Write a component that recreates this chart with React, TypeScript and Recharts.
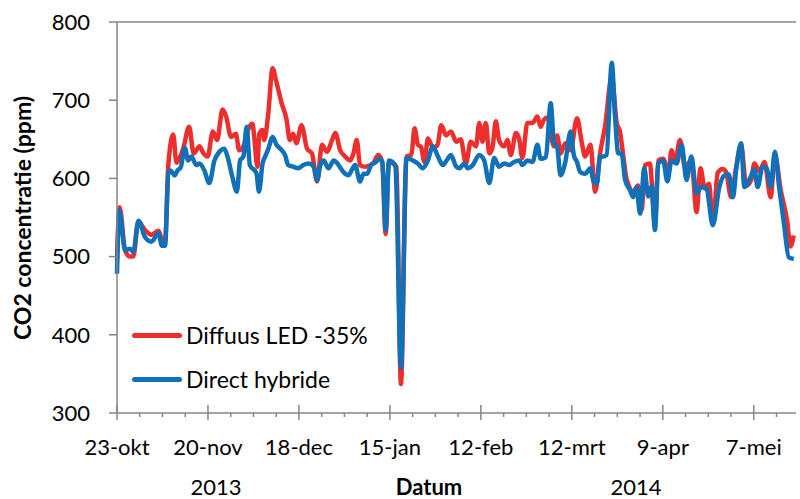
import React from 'react';
import { LineChart, Line, XAxis, YAxis, ReferenceLine, Legend, Label } from 'recharts';

// Day offsets from 23-okt-2013
const tickDays = [0, 28, 56, 84, 112, 140, 168, 196];
const tickLabels = ['23-okt', '20-nov', '18-dec', '15-jan', '12-feb', '12-mrt', '9-apr', '7-mei'];
const minorTickDays = [0, 7, 14, 21, 28, 35, 42, 49, 56, 63, 70, 77, 84, 91, 98, 105, 112, 119, 126, 133, 140, 147, 154, 161, 168, 175, 182, 189, 196, 203];
const yTicks = [300, 400, 500, 600, 700, 800];
const seriesNames = ['Diffuus LED -35%', 'Direct hybride'];

const redDays = [0, 0.8, 2.5, 4, 5, 6.6, 8.6, 10.6, 12.8, 13.8, 14.8, 15.8, 17.3, 18.3, 19.5, 20.5, 22.2, 23.6, 25.4, 26.6, 27.9, 29.5, 30.8, 32.5, 33.6, 35.1, 36.6, 37.6, 38.8, 40.7, 41.7, 42.3, 43.2, 43.8, 44.8, 45.3, 46.5, 47.9, 48.9, 50.7, 52.2, 53.2, 54.2, 55.2, 56.8, 58.5, 60, 61.6, 63.1, 64.6, 66.2, 67.2, 68.7, 70.2, 71.8, 72.8, 73.8, 74.8, 76.4, 78.8, 80.4, 81.6, 82.7, 83.7, 85, 86, 87.4, 89.1, 90.6, 91.6, 92.6, 93.6, 94.6, 95.7, 97.2, 98.6, 99.8, 101.3, 102.8, 104.4, 105.8, 107.4, 108.9, 110.5, 111.5, 112.5, 113.5, 114.6, 115.6, 116.6, 117.6, 119.2, 120.2, 121.2, 122.8, 123.8, 124.8, 126.3, 127.9, 129.4, 130.4, 131.4, 132.5, 134.5, 135.5, 136.5, 138, 139.6, 141.6, 143.1, 144.1, 145.7, 147.2, 148.7, 150.2, 152.3, 153.8, 154.8, 155.8, 156.8, 158.9, 160.4, 161.5, 162.5, 164, 165.6, 166.6, 168.1, 169.7, 170.7, 171.7, 173.3, 174.8, 176.8, 178.4, 179.6, 180.9, 182.2, 183.4, 184.9, 186.4, 187.5, 189, 190.6, 192.1, 193.7, 195.2, 196.2, 197.7, 199.3, 201.2, 202.5, 204.3, 206.3, 207.3, 208.3];
const redValues = [495, 563, 508, 500, 500, 545, 534, 528, 533, 522, 520, 617, 656, 620, 628, 640, 666, 632, 641, 632, 628, 660, 649, 688, 679, 653, 657, 636, 640, 666, 670, 650, 615, 657, 662, 649, 680, 741, 726, 696, 675, 649, 657, 645, 668, 638, 632, 596, 643, 634, 649, 658, 636, 628, 623, 632, 649, 617, 615, 619, 630, 622, 529, 621, 619, 615, 337, 628, 630, 664, 643, 640, 621, 651, 640, 642, 668, 655, 660, 647, 650, 619, 647, 641, 671, 647, 671, 632, 640, 673, 649, 641, 649, 630, 658, 650, 626, 671, 671, 679, 666, 675, 678, 641, 655, 632, 645, 636, 677, 645, 628, 643, 583, 632, 666, 730, 671, 660, 630, 600, 583, 591, 560, 617, 619, 542, 623, 625, 607, 636, 620, 649, 615, 623, 557, 613, 587, 593, 542, 607, 612, 608, 576, 615, 643, 591, 598, 619, 609, 621, 576, 630, 585, 545, 513, 527];

const blueDays = [0, 0.7, 2.5, 4, 5, 6.6, 8.6, 10.6, 12.8, 13.8, 14.8, 15.8, 16.5, 17.7, 18.6, 19.6, 20.9, 21.9, 22.9, 24.4, 25.4, 26.9, 28.4, 30, 31.5, 33, 34, 35.5, 36.9, 37.9, 38.9, 39.9, 40.9, 42.9, 43.7, 44.8, 45.6, 46.6, 47.9, 49.1, 50.7, 51.7, 52.7, 54.2, 55.8, 57.3, 59, 60.5, 61.6, 62.6, 63.6, 65.1, 66.7, 68.2, 69.7, 71.3, 72.3, 73.3, 74.8, 75.9, 77, 78.2, 79.7, 80.7, 81.7, 82.7, 83.7, 84.8, 85.7, 87.4, 89.1, 91.1, 92.6, 94.1, 95.7, 97.2, 98.8, 100.3, 101.8, 102.8, 104.4, 105.4, 106.9, 107.9, 109.5, 111.5, 113, 114.6, 116.1, 117.6, 119.2, 120.7, 122.2, 123.8, 124.8, 126.3, 127.9, 129.4, 130.4, 132, 133.5, 134.5, 135.5, 136.5, 138, 139.6, 140.6, 141.6, 142.6, 144.1, 145.7, 146.7, 147.7, 148.7, 149.7, 150.7, 152.3, 153.3, 154.3, 155.3, 156.4, 157.9, 158.9, 159.9, 161, 162.3, 163.5, 164.5, 165.6, 166.6, 168.1, 169.4, 170.7, 172.2, 173.8, 175.3, 176.8, 178.4, 179.9, 181.4, 183.4, 185.4, 187, 188.3, 189.6, 190.6, 192.1, 193.1, 194.6, 196.2, 197.2, 198.7, 200, 201.2, 202.5, 203.8, 205.3, 206.8, 208.3];
const blueValues = [478, 559, 508, 510, 506, 546, 525, 519, 530, 514, 514, 607, 610, 604, 610, 614, 639, 623, 628, 617, 619, 610, 594, 623, 634, 638, 628, 602, 583, 623, 628, 666, 617, 607, 583, 619, 628, 638, 653, 643, 636, 630, 617, 615, 613, 617, 619, 615, 598, 617, 623, 613, 623, 617, 608, 604, 611, 617, 596, 606, 606, 617, 621, 625, 620, 534, 623, 621, 615, 358, 626, 623, 619, 613, 623, 641, 628, 617, 625, 630, 615, 613, 619, 613, 617, 630, 623, 594, 626, 615, 619, 617, 621, 623, 617, 623, 621, 643, 625, 627, 696, 645, 640, 604, 621, 660, 630, 621, 608, 606, 613, 596, 593, 628, 628, 630, 748, 679, 632, 632, 598, 585, 576, 589, 555, 613, 577, 590, 534, 619, 623, 596, 623, 619, 643, 598, 628, 581, 589, 588, 540, 589, 604, 605, 576, 611, 645, 589, 598, 611, 589, 615, 613, 589, 634, 589, 542, 499, 497];

const redData = redDays.map((d, i) => ({ day: d, value: redValues[i] }));
const blueData = blueDays.map((d, i) => ({ day: d, value: blueValues[i] }));

const RED = '#EE2D2D';
const BLUE = '#1070B8';
const AXIS = '#868686';
const FONT = 'Lato, "Noto Sans", sans-serif';
const colors = [RED, BLUE];

const XTick = (props: any) => {
  const { x, y, payload } = props;
  const v = payload.value as number;
  const idx = tickDays.indexOf(v);
  const major = idx >= 0;
  return (
    <g>
      <line x1={x} x2={x} y1={major ? y - 8 : y} y2={major ? y + 7 : y + 4} stroke={AXIS} strokeWidth={1.5} />
      {major && (
        <text x={x} y={y + 42} textAnchor="middle" fontSize={22} fontFamily={FONT} fill="#000">
          {tickLabels[idx]}
        </text>
      )}
    </g>
  );
};

const XLabels = () => (
  <g fontFamily={FONT} fontSize={22} fill="#000">
    <text x={216} y={495} textAnchor="middle">2013</text>
    <text x={429} y={495} textAnchor="middle" fontWeight="bold">Datum</text>
    <text x={636} y={495} textAnchor="middle">2014</text>
  </g>
);

const YTitle = () => (
  <text x={22} y={218} transform="rotate(-90, 22, 218)" textAnchor="middle" dominantBaseline="central" fontFamily={FONT} fontSize={23} fontWeight="bold" fill="#000">
    CO2 concentratie (ppm)
  </text>
);

const LegendContent = () => (
  <div style={{ fontFamily: FONT, fontSize: 23, color: '#000' }}>
    {seriesNames.map((name, i) => (
      <div key={name} style={{ display: 'flex', alignItems: 'center', height: 44, whiteSpace: 'nowrap' }}>
        <div style={{ width: 50, height: 5, background: colors[i], borderRadius: 2.5, marginRight: 4 }} />
        <span>{name}</span>
      </div>
    ))}
  </div>
);

export default function App() {
  return (
    <div style={{ position: 'absolute', left: 0, top: 0 }}>
      <LineChart width={800} height={499} margin={{ top: 22, right: 4, bottom: 0, left: 0 }}>
        <XAxis
          dataKey="day"
          type="number"
          domain={[0, 209]}
          ticks={minorTickDays}
          interval={0}
          allowDuplicatedCategory={false}
          height={86}
          tickSize={0}
          tickMargin={0}
          tickLine={false}
          axisLine={{ stroke: AXIS, strokeWidth: 1.5 }}
          tick={<XTick />}
        >
          <Label content={<XLabels />} />
        </XAxis>
        <YAxis
          type="number"
          domain={[300, 800]}
          ticks={yTicks}
          interval={0}
          width={117}
          tickSize={8}
          tickMargin={19}
          axisLine={{ stroke: AXIS, strokeWidth: 1.5 }}
          tickLine={{ stroke: AXIS, strokeWidth: 1.5 }}
          tick={{ fontSize: 22, fontFamily: FONT, fill: '#000' }}
        >
          <Label content={<YTitle />} />
        </YAxis>
        <ReferenceLine y={800} stroke={AXIS} strokeWidth={1.5} />
        <Legend
          layout="horizontal"
          verticalAlign="middle"
          align="center"
          content={<LegendContent />}
          wrapperStyle={{ position: 'absolute', left: 132, top: 313, width: 'auto', height: 'auto' }}
        />
        <Line data={redData} dataKey="value" name={seriesNames[0]} type="monotone" stroke={RED} strokeWidth={4.5} dot={false} isAnimationActive={false} />
        <Line data={blueData} dataKey="value" name={seriesNames[1]} type="monotone" stroke={BLUE} strokeWidth={4.5} dot={false} isAnimationActive={false} />
      </LineChart>
    </div>
  );
}
